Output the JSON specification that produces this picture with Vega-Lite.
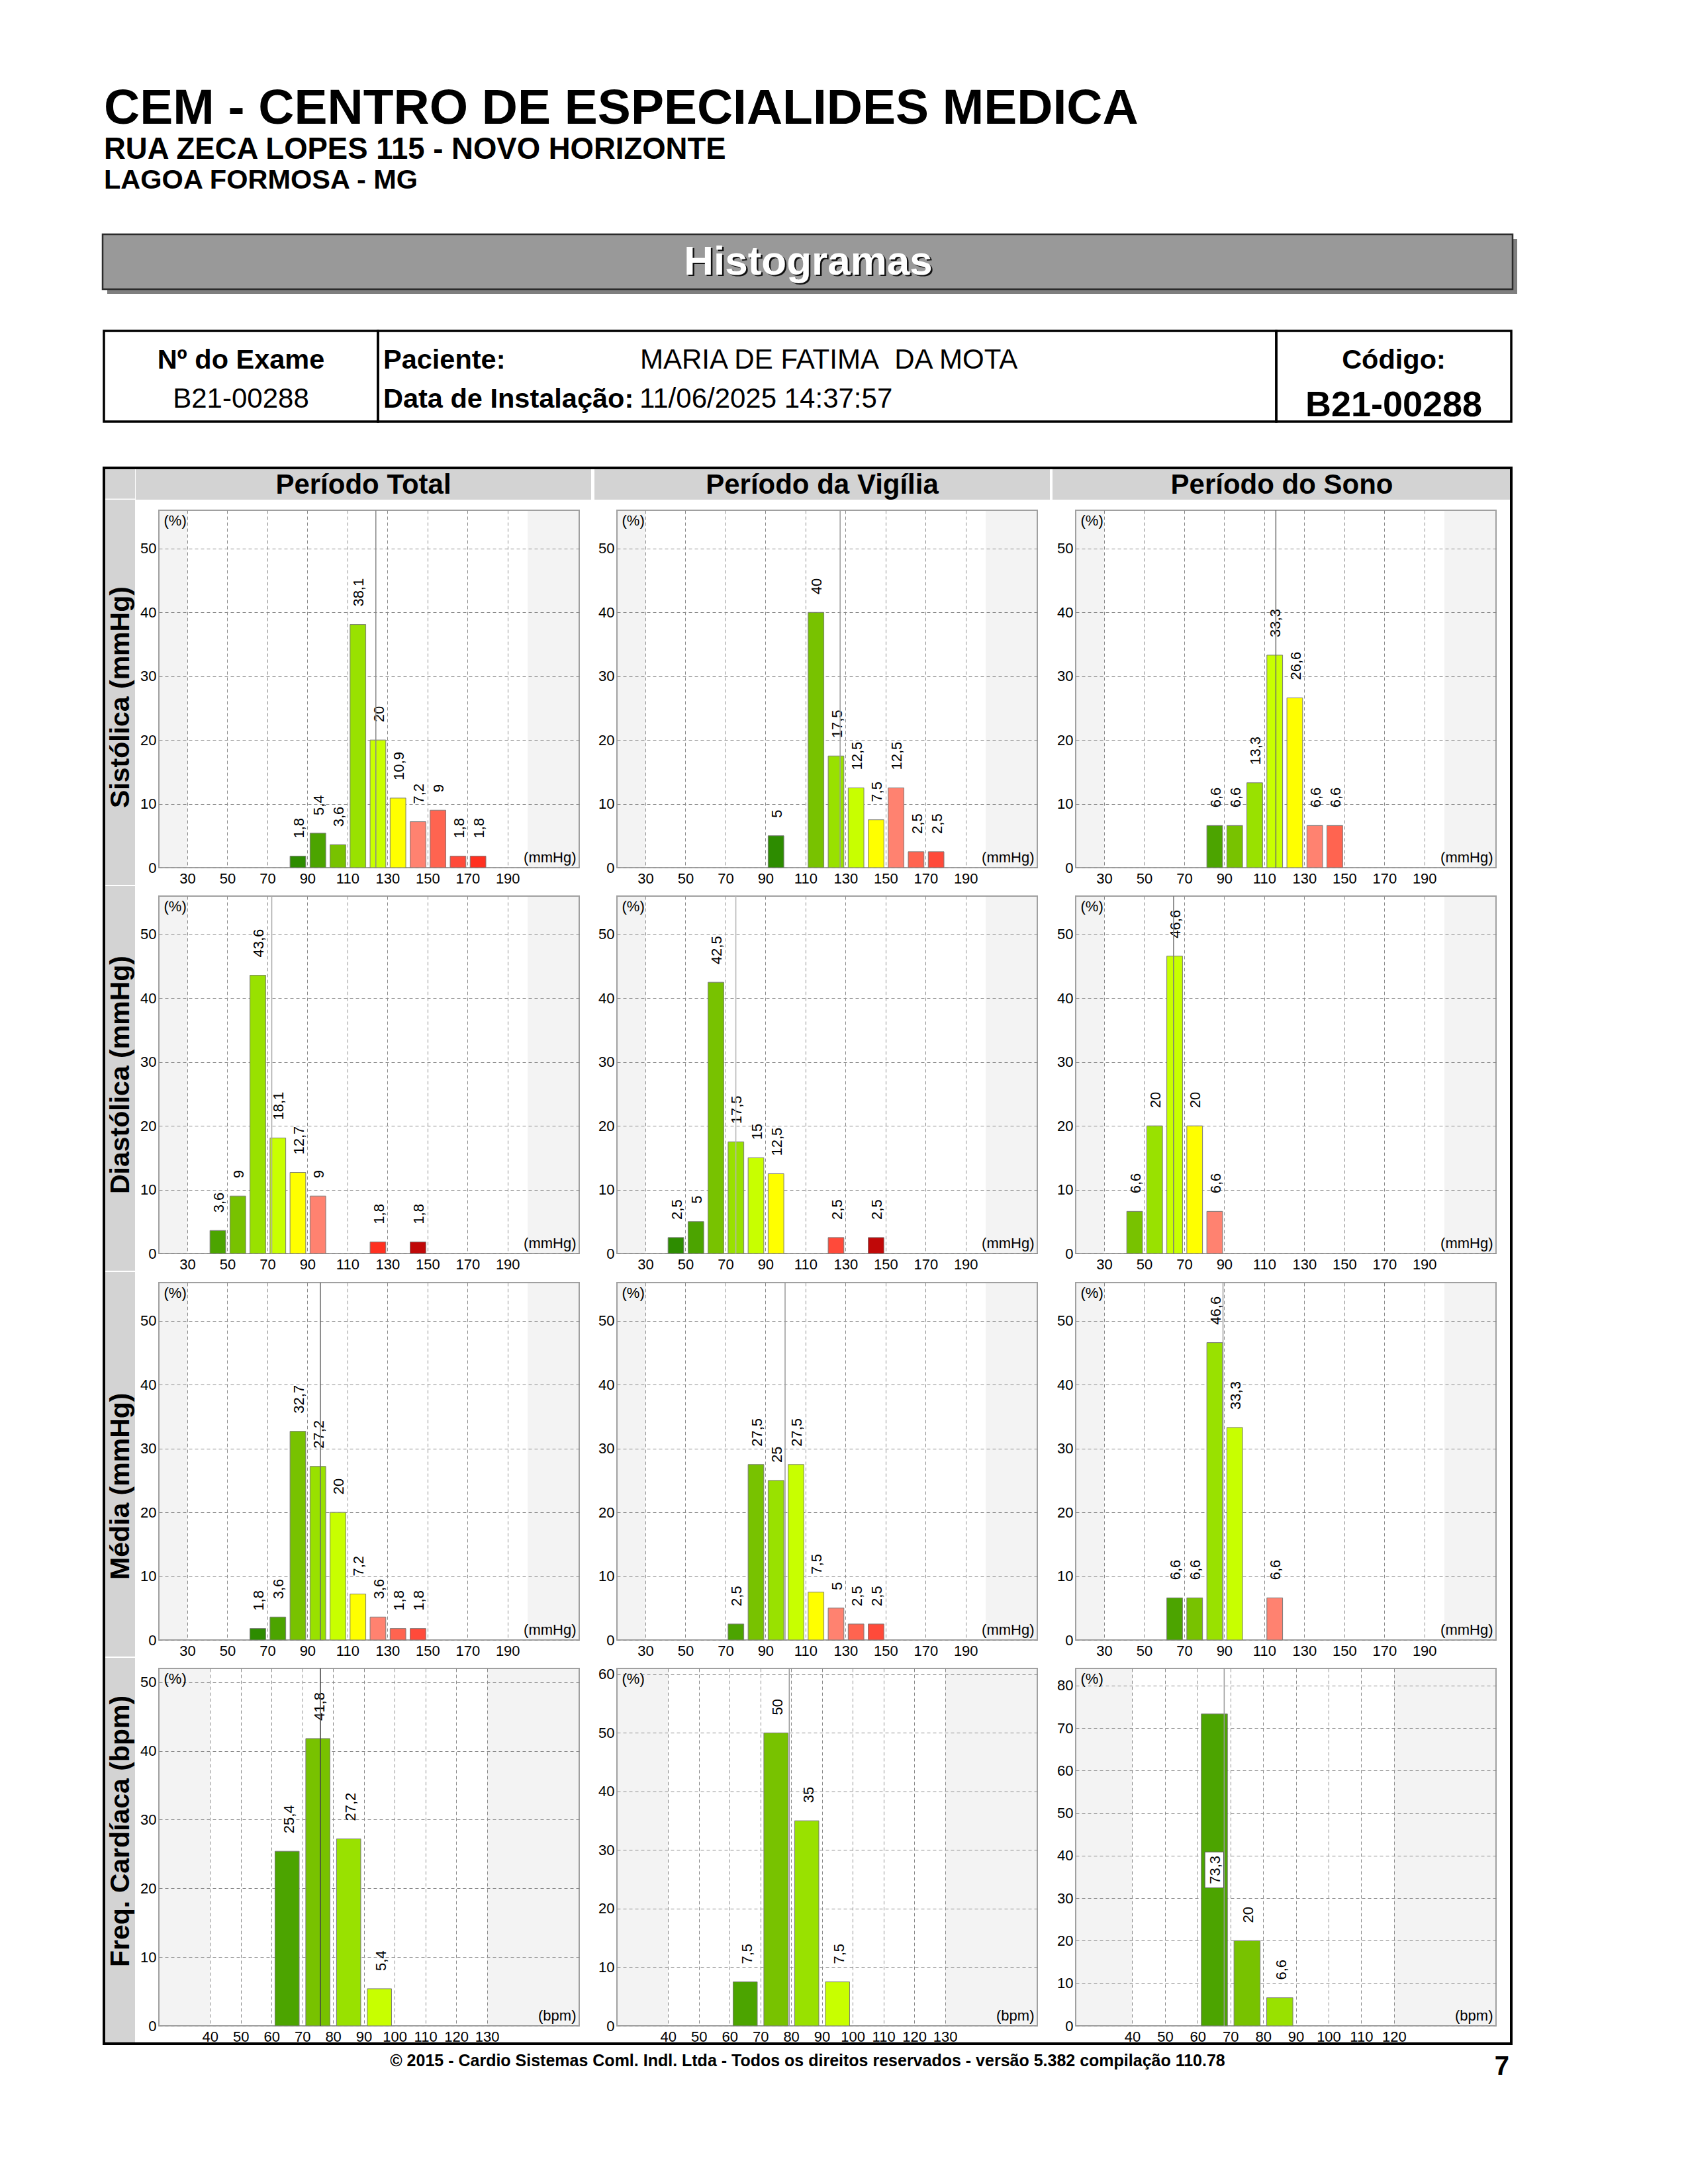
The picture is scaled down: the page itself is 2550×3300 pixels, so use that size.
{
  "$schema": "https://vega.github.io/schema/vega-lite/v6.json",
  "padding": {"left": 153, "top": 0, "right": 0, "bottom": 0},
  "background": "#ffffff",
  "config": {
    "font": "Liberation Sans",
    "view": {"stroke": null},
    "axis": {"labelFont": "Liberation Sans", "titleFont": "Liberation Sans", "labelColor": "#000000", "titleColor": "#000000", "labelFontSize": 22, "titleFontSize": 22, "titleFontWeight": "normal", "ticks": false, "domain": false, "gridColor": "#8a8a8a", "gridDash": [5, 4], "gridWidth": 1, "gridOpacity": 1, "labelOverlap": false},
    "text": {"font": "Liberation Sans", "color": "#000000"},
    "locale": {"number": {"decimal": ",", "thousands": ".", "grouping": [3], "currency": ["R$", ""]}}
  },
  "datasets": {
    "bars": [
      {"p": "s_t", "lo": 80, "hi": 90, "pct": 1.8, "lv": 1},
      {"p": "s_t", "lo": 90, "hi": 100, "pct": 5.4, "lv": 2},
      {"p": "s_t", "lo": 100, "hi": 110, "pct": 3.6, "lv": 3},
      {"p": "s_t", "lo": 110, "hi": 120, "pct": 38.1, "lv": 4},
      {"p": "s_t", "lo": 120, "hi": 130, "pct": 20, "lv": 5},
      {"p": "s_t", "lo": 130, "hi": 140, "pct": 10.9, "lv": 6},
      {"p": "s_t", "lo": 140, "hi": 150, "pct": 7.2, "lv": 7},
      {"p": "s_t", "lo": 150, "hi": 160, "pct": 9, "lv": 8},
      {"p": "s_t", "lo": 160, "hi": 170, "pct": 1.8, "lv": 9},
      {"p": "s_t", "lo": 170, "hi": 180, "pct": 1.8, "lv": 10},
      {"p": "s_v", "lo": 90, "hi": 100, "pct": 5, "lv": 1},
      {"p": "s_v", "lo": 110, "hi": 120, "pct": 40, "lv": 3},
      {"p": "s_v", "lo": 120, "hi": 130, "pct": 17.5, "lv": 4},
      {"p": "s_v", "lo": 130, "hi": 140, "pct": 12.5, "lv": 5},
      {"p": "s_v", "lo": 140, "hi": 150, "pct": 7.5, "lv": 6},
      {"p": "s_v", "lo": 150, "hi": 160, "pct": 12.5, "lv": 7},
      {"p": "s_v", "lo": 160, "hi": 170, "pct": 2.5, "lv": 8},
      {"p": "s_v", "lo": 170, "hi": 180, "pct": 2.5, "lv": 9},
      {"p": "s_s", "lo": 80, "hi": 90, "pct": 6.6, "lv": 2},
      {"p": "s_s", "lo": 90, "hi": 100, "pct": 6.6, "lv": 3},
      {"p": "s_s", "lo": 100, "hi": 110, "pct": 13.3, "lv": 4},
      {"p": "s_s", "lo": 110, "hi": 120, "pct": 33.3, "lv": 5},
      {"p": "s_s", "lo": 120, "hi": 130, "pct": 26.6, "lv": 6},
      {"p": "s_s", "lo": 130, "hi": 140, "pct": 6.6, "lv": 7},
      {"p": "s_s", "lo": 140, "hi": 150, "pct": 6.6, "lv": 8},
      {"p": "d_t", "lo": 40, "hi": 50, "pct": 3.6, "lv": 2},
      {"p": "d_t", "lo": 50, "hi": 60, "pct": 9, "lv": 3},
      {"p": "d_t", "lo": 60, "hi": 70, "pct": 43.6, "lv": 4},
      {"p": "d_t", "lo": 70, "hi": 80, "pct": 18.1, "lv": 5},
      {"p": "d_t", "lo": 80, "hi": 90, "pct": 12.7, "lv": 6},
      {"p": "d_t", "lo": 90, "hi": 100, "pct": 9, "lv": 7},
      {"p": "d_t", "lo": 120, "hi": 130, "pct": 1.8, "lv": 10},
      {"p": "d_t", "lo": 140, "hi": 150, "pct": 1.8, "lv": 11},
      {"p": "d_v", "lo": 40, "hi": 50, "pct": 2.5, "lv": 1},
      {"p": "d_v", "lo": 50, "hi": 60, "pct": 5, "lv": 2},
      {"p": "d_v", "lo": 60, "hi": 70, "pct": 42.5, "lv": 3},
      {"p": "d_v", "lo": 70, "hi": 80, "pct": 17.5, "lv": 4},
      {"p": "d_v", "lo": 80, "hi": 90, "pct": 15, "lv": 5},
      {"p": "d_v", "lo": 90, "hi": 100, "pct": 12.5, "lv": 6},
      {"p": "d_v", "lo": 120, "hi": 130, "pct": 2.5, "lv": 9},
      {"p": "d_v", "lo": 140, "hi": 150, "pct": 2.5, "lv": 11},
      {"p": "d_s", "lo": 40, "hi": 50, "pct": 6.6, "lv": 3},
      {"p": "d_s", "lo": 50, "hi": 60, "pct": 20, "lv": 4},
      {"p": "d_s", "lo": 60, "hi": 70, "pct": 46.6, "lv": 5},
      {"p": "d_s", "lo": 70, "hi": 80, "pct": 20, "lv": 6},
      {"p": "d_s", "lo": 80, "hi": 90, "pct": 6.6, "lv": 7},
      {"p": "m_t", "lo": 60, "hi": 70, "pct": 1.8, "lv": 1},
      {"p": "m_t", "lo": 70, "hi": 80, "pct": 3.6, "lv": 2},
      {"p": "m_t", "lo": 80, "hi": 90, "pct": 32.7, "lv": 3},
      {"p": "m_t", "lo": 90, "hi": 100, "pct": 27.2, "lv": 4},
      {"p": "m_t", "lo": 100, "hi": 110, "pct": 20, "lv": 5},
      {"p": "m_t", "lo": 110, "hi": 120, "pct": 7.2, "lv": 6},
      {"p": "m_t", "lo": 120, "hi": 130, "pct": 3.6, "lv": 7},
      {"p": "m_t", "lo": 130, "hi": 140, "pct": 1.8, "lv": 8},
      {"p": "m_t", "lo": 140, "hi": 150, "pct": 1.8, "lv": 9},
      {"p": "m_v", "lo": 70, "hi": 80, "pct": 2.5, "lv": 2},
      {"p": "m_v", "lo": 80, "hi": 90, "pct": 27.5, "lv": 3},
      {"p": "m_v", "lo": 90, "hi": 100, "pct": 25, "lv": 4},
      {"p": "m_v", "lo": 100, "hi": 110, "pct": 27.5, "lv": 5},
      {"p": "m_v", "lo": 110, "hi": 120, "pct": 7.5, "lv": 6},
      {"p": "m_v", "lo": 120, "hi": 130, "pct": 5, "lv": 7},
      {"p": "m_v", "lo": 130, "hi": 140, "pct": 2.5, "lv": 8},
      {"p": "m_v", "lo": 140, "hi": 150, "pct": 2.5, "lv": 9},
      {"p": "m_s", "lo": 60, "hi": 70, "pct": 6.6, "lv": 2},
      {"p": "m_s", "lo": 70, "hi": 80, "pct": 6.6, "lv": 3},
      {"p": "m_s", "lo": 80, "hi": 90, "pct": 46.6, "lv": 4},
      {"p": "m_s", "lo": 90, "hi": 100, "pct": 33.3, "lv": 5},
      {"p": "m_s", "lo": 110, "hi": 120, "pct": 6.6, "lv": 7},
      {"p": "f_t", "lo": 60, "hi": 70, "pct": 25.4, "lv": 2},
      {"p": "f_t", "lo": 70, "hi": 80, "pct": 41.8, "lv": 3},
      {"p": "f_t", "lo": 80, "hi": 90, "pct": 27.2, "lv": 4},
      {"p": "f_t", "lo": 90, "hi": 100, "pct": 5.4, "lv": 5},
      {"p": "f_v", "lo": 60, "hi": 70, "pct": 7.5, "lv": 2},
      {"p": "f_v", "lo": 70, "hi": 80, "pct": 50, "lv": 3},
      {"p": "f_v", "lo": 80, "hi": 90, "pct": 35, "lv": 4},
      {"p": "f_v", "lo": 90, "hi": 100, "pct": 7.5, "lv": 5},
      {"p": "f_s", "lo": 60, "hi": 70, "pct": 73.3, "lv": 2},
      {"p": "f_s", "lo": 70, "hi": 80, "pct": 20, "lv": 3},
      {"p": "f_s", "lo": 80, "hi": 90, "pct": 6.6, "lv": 4}
    ],
    "means": [
      {"p": "s_t", "m": 124.2}, {"p": "s_v", "m": 127.3}, {"p": "s_s", "m": 115.8},
      {"p": "d_t", "m": 72.2}, {"p": "d_v", "m": 75.2}, {"p": "d_s", "m": 64.7},
      {"p": "m_t", "m": 96.5}, {"p": "m_v", "m": 99.8}, {"p": "m_s", "m": 89.4},
      {"p": "f_t", "m": 75.9}, {"p": "f_v", "m": 79.4}, {"p": "f_s", "m": 68.1}
    ]
  },
  "columns": 7,
  "align": "none",
  "bounds": "flush",
  "spacing": 0,
  "concat": [
    {
      "width": 47, "height": 707,
      "data": {"values": [{}]},
      "layer": [
        {"mark": {"type": "text", "text": "CEM - CENTRO DE ESPECIALIDES MEDICA", "fontSize": 75, "fontWeight": "bold", "align": "left", "baseline": "alphabetic"}, "encoding": {"x": {"value": 0}, "y": {"value": 187}}},
        {"mark": {"type": "text", "text": "RUA ZECA LOPES 115 - NOVO HORIZONTE", "fontSize": 45.5, "fontWeight": "bold", "align": "left", "baseline": "alphabetic"}, "encoding": {"x": {"value": 0}, "y": {"value": 239.5}}},
        {"mark": {"type": "text", "text": "LAGOA FORMOSA - MG", "fontSize": 41.5, "fontWeight": "bold", "align": "left", "baseline": "alphabetic"}, "encoding": {"x": {"value": 0}, "y": {"value": 285}}},
        {"mark": {"type": "rect", "fill": "#7f7f7f"}, "encoding": {"x": {"value": 5}, "x2": {"value": 2135}, "y": {"value": 361}, "y2": {"value": 444}}},
        {"mark": {"type": "rect", "fill": "#999999", "stroke": "#2b2b2b", "strokeWidth": 2.5}, "encoding": {"x": {"value": -2}, "x2": {"value": 2128}, "y": {"value": 354}, "y2": {"value": 437}}},
        {"mark": {"type": "text", "text": "Histogramas", "fontSize": 62, "fontWeight": "bold", "color": "#111111", "baseline": "middle"}, "encoding": {"x": {"value": 1066.5}, "y": {"value": 398}}},
        {"mark": {"type": "text", "text": "Histogramas", "fontSize": 62, "fontWeight": "bold", "color": "#ffffff", "baseline": "middle"}, "encoding": {"x": {"value": 1064}, "y": {"value": 395.5}}},
        {"mark": {"type": "rect", "filled": false, "color": "#000000", "strokeWidth": 3.5}, "encoding": {"x": {"value": 0}, "x2": {"value": 414}, "y": {"value": 500}, "y2": {"value": 637}}},
        {"mark": {"type": "rect", "filled": false, "color": "#000000", "strokeWidth": 3.5}, "encoding": {"x": {"value": 414}, "x2": {"value": 1771}, "y": {"value": 500}, "y2": {"value": 637}}},
        {"mark": {"type": "rect", "filled": false, "color": "#000000", "strokeWidth": 3.5}, "encoding": {"x": {"value": 1771}, "x2": {"value": 2126}, "y": {"value": 500}, "y2": {"value": 637}}},
        {"mark": {"type": "text", "text": "Nº do Exame", "fontSize": 41.5, "fontWeight": "bold", "baseline": "alphabetic"}, "encoding": {"x": {"value": 207}, "y": {"value": 557}}},
        {"mark": {"type": "text", "text": "B21-00288", "fontSize": 42, "baseline": "alphabetic"}, "encoding": {"x": {"value": 207}, "y": {"value": 616}}},
        {"mark": {"type": "text", "text": "Paciente:", "fontSize": 41.5, "fontWeight": "bold", "align": "left", "baseline": "alphabetic"}, "encoding": {"x": {"value": 422}, "y": {"value": 557}}},
        {"mark": {"type": "text", "text": "MARIA DE FATIMA\u00a0 DA MOTA", "fontSize": 42, "align": "left", "baseline": "alphabetic"}, "encoding": {"x": {"value": 810}, "y": {"value": 557}}},
        {"mark": {"type": "text", "text": "Data de Instalação:", "fontSize": 41.5, "fontWeight": "bold", "align": "left", "baseline": "alphabetic"}, "encoding": {"x": {"value": 422}, "y": {"value": 616}}},
        {"mark": {"type": "text", "text": "11/06/2025 14:37:57", "fontSize": 42, "align": "left", "baseline": "alphabetic"}, "encoding": {"x": {"value": 809}, "y": {"value": 616}}},
        {"mark": {"type": "text", "text": "Código:", "fontSize": 41.5, "fontWeight": "bold", "baseline": "alphabetic"}, "encoding": {"x": {"value": 1948.5}, "y": {"value": 557}}},
        {"mark": {"type": "text", "text": "B21-00288", "fontSize": 54, "fontWeight": "bold", "baseline": "alphabetic"}, "encoding": {"x": {"value": 1948.5}, "y": {"value": 629}}}
      ]
    },
    {"width": 1, "height": 707, "data": {"values": []}, "mark": "point"},
    {"width": 1, "height": 707, "data": {"values": []}, "mark": "point"},
    {"width": 1, "height": 707, "data": {"values": []}, "mark": "point"},
    {"width": 1, "height": 707, "data": {"values": []}, "mark": "point"},
    {"width": 1, "height": 707, "data": {"values": []}, "mark": "point"},
    {"width": 1, "height": 707, "data": {"values": []}, "mark": "point"},

    {"width": 47, "height": 48, "view": {"fill": "#d3d3d3"}, "data": {"values": [{}]}, "mark": {"type": "rect", "fill": "#ffffff"}, "encoding": {"x": {"value": 0}, "x2": {"value": 47}, "y": {"value": 46.5}, "y2": {"value": 48}}},
    {"width": 36, "height": 48, "data": {"values": []}, "mark": "point"},
    {"width": 635, "height": 48, "data": {"values": [{}]}, "layer": [
      {"mark": {"type": "rect", "fill": "#d3d3d3"}, "encoding": {"x": {"value": -35}, "x2": {"value": 653}, "y": {"value": 0}, "y2": {"value": 48}}},
      {"mark": {"type": "text", "text": "Período Total", "fontSize": 42, "fontWeight": "bold", "baseline": "middle"}, "encoding": {"x": {"value": 309}, "y": {"value": 26}}}
    ]},
    {"width": 57, "height": 48, "data": {"values": []}, "mark": "point"},
    {"width": 635, "height": 48, "data": {"values": [{}]}, "layer": [
      {"mark": {"type": "rect", "fill": "#d3d3d3"}, "encoding": {"x": {"value": -34}, "x2": {"value": 654}, "y": {"value": 0}, "y2": {"value": 48}}},
      {"mark": {"type": "text", "text": "Período da Vigília", "fontSize": 42, "fontWeight": "bold", "baseline": "middle"}, "encoding": {"x": {"value": 310}, "y": {"value": 26}}}
    ]},
    {"width": 58, "height": 48, "data": {"values": []}, "mark": "point"},
    {"width": 635, "height": 48, "data": {"values": [{}]}, "layer": [
      {"mark": {"type": "rect", "fill": "#d3d3d3"}, "encoding": {"x": {"value": -35}, "x2": {"value": 658}, "y": {"value": 0}, "y2": {"value": 48}}},
      {"mark": {"type": "text", "text": "Período do Sono", "fontSize": 42, "fontWeight": "bold", "baseline": "middle"}, "encoding": {"x": {"value": 311.5}, "y": {"value": 26}}}
    ]},

    {"width": 47, "height": 16, "view": {"fill": "#d3d3d3"}, "data": {"values": []}, "mark": "point"},
    {"width": 36, "height": 16, "data": {"values": []}, "mark": "point"},
    {"width": 635, "height": 16, "data": {"values": []}, "mark": "point"},
    {"width": 57, "height": 16, "data": {"values": []}, "mark": "point"},
    {"width": 635, "height": 16, "data": {"values": []}, "mark": "point"},
    {"width": 58, "height": 16, "data": {"values": []}, "mark": "point"},
    {"width": 635, "height": 16, "data": {"values": []}, "mark": "point"},

    {"width": 47, "height": 540, "view": {"fill": "#d3d3d3"}, "data": {"values": [{}]}, "mark": {"type": "text", "text": "Sistólica (mmHg)", "angle": 270, "align": "left", "baseline": "alphabetic", "fontSize": 41, "fontWeight": "bold"}, "encoding": {"x": {"value": 38}, "y": {"value": 450}}},
    {"width": 36, "height": 540, "data": {"values": []}, "mark": "point"},
    {
      "width": 635, "height": 540,
      "view": {"fill": {"gradient": "linear", "x1": 0, "y1": 0, "x2": 1, "y2": 0, "stops": [{"offset": 0, "color": "#f3f3f3"}, {"offset": 0.0676, "color": "#f3f3f3"}, {"offset": 0.0676, "color": "#ffffff"}, {"offset": 0.8771, "color": "#ffffff"}, {"offset": 0.8771, "color": "#f3f3f3"}, {"offset": 1, "color": "#f3f3f3"}]}, "stroke": "#a0a0a0", "strokeWidth": 2},
      "layer": [
        {"data": {"name": "bars"}, "transform": [{"filter": "datum.p == 's_t'"}], "mark": {"type": "bar", "xOffset": 4, "x2Offset": -2.5, "stroke": "#7a7a7a", "strokeWidth": 1}, "encoding": {
          "x": {"field": "lo", "type": "quantitative", "scale": {"domain": [15.8, 225.8], "nice": false, "zero": false}, "axis": {"values": [30, 40, 50, 60, 70, 80, 90, 100, 110, 120, 130, 140, 150, 160, 170, 180, 190, 200], "labelExpr": "datum.value % 20 == 10 ? datum.label : ''", "labelPadding": 6, "title": "(mmHg)", "titleX": 630, "titleY": -4, "titleAlign": "right", "titleBaseline": "bottom"}},
          "x2": {"field": "hi"},
          "y": {"field": "pct", "type": "quantitative", "scale": {"domain": [0, 56], "nice": false}, "axis": {"values": [0, 10, 20, 30, 40, 50], "labelPadding": 4, "title": "(%)", "titleAngle": 0, "titleX": 7, "titleY": 5, "titleAlign": "left", "titleBaseline": "top"}},
          "y2": {"datum": 0},
          "color": {"field": "lv", "type": "ordinal", "scale": {"domain": [1, 2, 3, 4, 5, 6, 7, 8, 9, 10, 11], "range": ["#2d8c00", "#4ca400", "#78c200", "#99e100", "#c8ff00", "#ffff00", "#ff8270", "#ff6450", "#ff4a3a", "#ff3020", "#c00808"]}, "legend": null}}},
        {"data": {"name": "bars"}, "transform": [{"filter": "datum.p == 's_t'"}], "mark": {"type": "text", "angle": 270, "align": "left", "baseline": "middle", "fontSize": 22, "xOffset": 17.5, "yOffset": -27}, "encoding": {"x": {"field": "lo", "type": "quantitative"}, "y": {"field": "pct", "type": "quantitative"}, "text": {"field": "pct", "type": "quantitative", "format": ".3~g"}}},
        {"data": {"name": "means"}, "transform": [{"filter": "datum.p == 's_t'"}], "mark": {"type": "rule", "color": "#8a8a8a", "strokeWidth": 1.5}, "encoding": {"x": {"field": "m", "type": "quantitative"}}}
      ]
    },
    {"width": 57, "height": 540, "data": {"values": []}, "mark": "point"},
    {
      "width": 635, "height": 540,
      "view": {"fill": {"gradient": "linear", "x1": 0, "y1": 0, "x2": 1, "y2": 0, "stops": [{"offset": 0, "color": "#f3f3f3"}, {"offset": 0.0676, "color": "#f3f3f3"}, {"offset": 0.0676, "color": "#ffffff"}, {"offset": 0.8771, "color": "#ffffff"}, {"offset": 0.8771, "color": "#f3f3f3"}, {"offset": 1, "color": "#f3f3f3"}]}, "stroke": "#a0a0a0", "strokeWidth": 2},
      "layer": [
        {"data": {"name": "bars"}, "transform": [{"filter": "datum.p == 's_v'"}], "mark": {"type": "bar", "xOffset": 4, "x2Offset": -2.5, "stroke": "#7a7a7a", "strokeWidth": 1}, "encoding": {
          "x": {"field": "lo", "type": "quantitative", "scale": {"domain": [15.8, 225.8], "nice": false, "zero": false}, "axis": {"values": [30, 40, 50, 60, 70, 80, 90, 100, 110, 120, 130, 140, 150, 160, 170, 180, 190, 200], "labelExpr": "datum.value % 20 == 10 ? datum.label : ''", "labelPadding": 6, "title": "(mmHg)", "titleX": 630, "titleY": -4, "titleAlign": "right", "titleBaseline": "bottom"}},
          "x2": {"field": "hi"},
          "y": {"field": "pct", "type": "quantitative", "scale": {"domain": [0, 56], "nice": false}, "axis": {"values": [0, 10, 20, 30, 40, 50], "labelPadding": 4, "title": "(%)", "titleAngle": 0, "titleX": 7, "titleY": 5, "titleAlign": "left", "titleBaseline": "top"}},
          "y2": {"datum": 0},
          "color": {"field": "lv", "type": "ordinal", "scale": {"domain": [1, 2, 3, 4, 5, 6, 7, 8, 9, 10, 11], "range": ["#2d8c00", "#4ca400", "#78c200", "#99e100", "#c8ff00", "#ffff00", "#ff8270", "#ff6450", "#ff4a3a", "#ff3020", "#c00808"]}, "legend": null}}},
        {"data": {"name": "bars"}, "transform": [{"filter": "datum.p == 's_v'"}], "mark": {"type": "text", "angle": 270, "align": "left", "baseline": "middle", "fontSize": 22, "xOffset": 17.5, "yOffset": -27}, "encoding": {"x": {"field": "lo", "type": "quantitative"}, "y": {"field": "pct", "type": "quantitative"}, "text": {"field": "pct", "type": "quantitative", "format": ".3~g"}}},
        {"data": {"name": "means"}, "transform": [{"filter": "datum.p == 's_v'"}], "mark": {"type": "rule", "color": "#9a9a9a", "strokeWidth": 1.5}, "encoding": {"x": {"field": "m", "type": "quantitative"}}}
      ]
    },
    {"width": 58, "height": 540, "data": {"values": []}, "mark": "point"},
    {
      "width": 635, "height": 540,
      "view": {"fill": {"gradient": "linear", "x1": 0, "y1": 0, "x2": 1, "y2": 0, "stops": [{"offset": 0, "color": "#f3f3f3"}, {"offset": 0.0676, "color": "#f3f3f3"}, {"offset": 0.0676, "color": "#ffffff"}, {"offset": 0.8771, "color": "#ffffff"}, {"offset": 0.8771, "color": "#f3f3f3"}, {"offset": 1, "color": "#f3f3f3"}]}, "stroke": "#a0a0a0", "strokeWidth": 2},
      "layer": [
        {"data": {"name": "bars"}, "transform": [{"filter": "datum.p == 's_s'"}], "mark": {"type": "bar", "xOffset": 4, "x2Offset": -2.5, "stroke": "#7a7a7a", "strokeWidth": 1}, "encoding": {
          "x": {"field": "lo", "type": "quantitative", "scale": {"domain": [15.8, 225.8], "nice": false, "zero": false}, "axis": {"values": [30, 40, 50, 60, 70, 80, 90, 100, 110, 120, 130, 140, 150, 160, 170, 180, 190, 200], "labelExpr": "datum.value % 20 == 10 ? datum.label : ''", "labelPadding": 6, "title": "(mmHg)", "titleX": 630, "titleY": -4, "titleAlign": "right", "titleBaseline": "bottom"}},
          "x2": {"field": "hi"},
          "y": {"field": "pct", "type": "quantitative", "scale": {"domain": [0, 56], "nice": false}, "axis": {"values": [0, 10, 20, 30, 40, 50], "labelPadding": 4, "title": "(%)", "titleAngle": 0, "titleX": 7, "titleY": 5, "titleAlign": "left", "titleBaseline": "top"}},
          "y2": {"datum": 0},
          "color": {"field": "lv", "type": "ordinal", "scale": {"domain": [1, 2, 3, 4, 5, 6, 7, 8, 9, 10, 11], "range": ["#2d8c00", "#4ca400", "#78c200", "#99e100", "#c8ff00", "#ffff00", "#ff8270", "#ff6450", "#ff4a3a", "#ff3020", "#c00808"]}, "legend": null}}},
        {"data": {"name": "bars"}, "transform": [{"filter": "datum.p == 's_s'"}], "mark": {"type": "text", "angle": 270, "align": "left", "baseline": "middle", "fontSize": 22, "xOffset": 17.5, "yOffset": -27}, "encoding": {"x": {"field": "lo", "type": "quantitative"}, "y": {"field": "pct", "type": "quantitative"}, "text": {"field": "pct", "type": "quantitative", "format": ".3~g"}}},
        {"data": {"name": "means"}, "transform": [{"filter": "datum.p == 's_s'"}], "mark": {"type": "rule", "color": "#6a6a6a", "strokeWidth": 1.5}, "encoding": {"x": {"field": "m", "type": "quantitative"}}}
      ]
    },

    {"width": 47, "height": 43, "view": {"fill": "#d3d3d3"}, "data": {"values": [{}]}, "mark": {"type": "rect", "fill": "#ffffff"}, "encoding": {"x": {"value": 0}, "x2": {"value": 47}, "y": {"value": 26}, "y2": {"value": 28}}},
    {"width": 36, "height": 43, "data": {"values": []}, "mark": "point"},
    {"width": 635, "height": 43, "data": {"values": []}, "mark": "point"},
    {"width": 57, "height": 43, "data": {"values": []}, "mark": "point"},
    {"width": 635, "height": 43, "data": {"values": []}, "mark": "point"},
    {"width": 58, "height": 43, "data": {"values": []}, "mark": "point"},
    {"width": 635, "height": 43, "data": {"values": []}, "mark": "point"},

    {"width": 47, "height": 540, "view": {"fill": "#d3d3d3"}, "data": {"values": [{}]}, "mark": {"type": "text", "text": "Diastólica (mmHg)", "angle": 270, "align": "left", "baseline": "alphabetic", "fontSize": 41, "fontWeight": "bold"}, "encoding": {"x": {"value": 38}, "y": {"value": 450}}},
    {"width": 36, "height": 540, "data": {"values": []}, "mark": "point"},
    {
      "width": 635, "height": 540,
      "view": {"fill": {"gradient": "linear", "x1": 0, "y1": 0, "x2": 1, "y2": 0, "stops": [{"offset": 0, "color": "#f3f3f3"}, {"offset": 0.0676, "color": "#f3f3f3"}, {"offset": 0.0676, "color": "#ffffff"}, {"offset": 0.8771, "color": "#ffffff"}, {"offset": 0.8771, "color": "#f3f3f3"}, {"offset": 1, "color": "#f3f3f3"}]}, "stroke": "#a0a0a0", "strokeWidth": 2},
      "layer": [
        {"data": {"name": "bars"}, "transform": [{"filter": "datum.p == 'd_t'"}], "mark": {"type": "bar", "xOffset": 4, "x2Offset": -2.5, "stroke": "#7a7a7a", "strokeWidth": 1}, "encoding": {
          "x": {"field": "lo", "type": "quantitative", "scale": {"domain": [15.8, 225.8], "nice": false, "zero": false}, "axis": {"values": [30, 40, 50, 60, 70, 80, 90, 100, 110, 120, 130, 140, 150, 160, 170, 180, 190, 200], "labelExpr": "datum.value % 20 == 10 ? datum.label : ''", "labelPadding": 6, "title": "(mmHg)", "titleX": 630, "titleY": -4, "titleAlign": "right", "titleBaseline": "bottom"}},
          "x2": {"field": "hi"},
          "y": {"field": "pct", "type": "quantitative", "scale": {"domain": [0, 56], "nice": false}, "axis": {"values": [0, 10, 20, 30, 40, 50], "labelPadding": 4, "title": "(%)", "titleAngle": 0, "titleX": 7, "titleY": 5, "titleAlign": "left", "titleBaseline": "top"}},
          "y2": {"datum": 0},
          "color": {"field": "lv", "type": "ordinal", "scale": {"domain": [1, 2, 3, 4, 5, 6, 7, 8, 9, 10, 11], "range": ["#2d8c00", "#4ca400", "#78c200", "#99e100", "#c8ff00", "#ffff00", "#ff8270", "#ff6450", "#ff4a3a", "#ff3020", "#c00808"]}, "legend": null}}},
        {"data": {"name": "bars"}, "transform": [{"filter": "datum.p == 'd_t'"}], "mark": {"type": "text", "angle": 270, "align": "left", "baseline": "middle", "fontSize": 22, "xOffset": 17.5, "yOffset": -27}, "encoding": {"x": {"field": "lo", "type": "quantitative"}, "y": {"field": "pct", "type": "quantitative"}, "text": {"field": "pct", "type": "quantitative", "format": ".3~g"}}},
        {"data": {"name": "means"}, "transform": [{"filter": "datum.p == 'd_t'"}], "mark": {"type": "rule", "color": "#aaaaaa", "strokeWidth": 1.5}, "encoding": {"x": {"field": "m", "type": "quantitative"}}}
      ]
    },
    {"width": 57, "height": 540, "data": {"values": []}, "mark": "point"},
    {
      "width": 635, "height": 540,
      "view": {"fill": {"gradient": "linear", "x1": 0, "y1": 0, "x2": 1, "y2": 0, "stops": [{"offset": 0, "color": "#f3f3f3"}, {"offset": 0.0676, "color": "#f3f3f3"}, {"offset": 0.0676, "color": "#ffffff"}, {"offset": 0.8771, "color": "#ffffff"}, {"offset": 0.8771, "color": "#f3f3f3"}, {"offset": 1, "color": "#f3f3f3"}]}, "stroke": "#a0a0a0", "strokeWidth": 2},
      "layer": [
        {"data": {"name": "bars"}, "transform": [{"filter": "datum.p == 'd_v'"}], "mark": {"type": "bar", "xOffset": 4, "x2Offset": -2.5, "stroke": "#7a7a7a", "strokeWidth": 1}, "encoding": {
          "x": {"field": "lo", "type": "quantitative", "scale": {"domain": [15.8, 225.8], "nice": false, "zero": false}, "axis": {"values": [30, 40, 50, 60, 70, 80, 90, 100, 110, 120, 130, 140, 150, 160, 170, 180, 190, 200], "labelExpr": "datum.value % 20 == 10 ? datum.label : ''", "labelPadding": 6, "title": "(mmHg)", "titleX": 630, "titleY": -4, "titleAlign": "right", "titleBaseline": "bottom"}},
          "x2": {"field": "hi"},
          "y": {"field": "pct", "type": "quantitative", "scale": {"domain": [0, 56], "nice": false}, "axis": {"values": [0, 10, 20, 30, 40, 50], "labelPadding": 4, "title": "(%)", "titleAngle": 0, "titleX": 7, "titleY": 5, "titleAlign": "left", "titleBaseline": "top"}},
          "y2": {"datum": 0},
          "color": {"field": "lv", "type": "ordinal", "scale": {"domain": [1, 2, 3, 4, 5, 6, 7, 8, 9, 10, 11], "range": ["#2d8c00", "#4ca400", "#78c200", "#99e100", "#c8ff00", "#ffff00", "#ff8270", "#ff6450", "#ff4a3a", "#ff3020", "#c00808"]}, "legend": null}}},
        {"data": {"name": "bars"}, "transform": [{"filter": "datum.p == 'd_v'"}], "mark": {"type": "text", "angle": 270, "align": "left", "baseline": "middle", "fontSize": 22, "xOffset": 17.5, "yOffset": -27}, "encoding": {"x": {"field": "lo", "type": "quantitative"}, "y": {"field": "pct", "type": "quantitative"}, "text": {"field": "pct", "type": "quantitative", "format": ".3~g"}}},
        {"data": {"name": "means"}, "transform": [{"filter": "datum.p == 'd_v'"}], "mark": {"type": "rule", "color": "#b4b4b4", "strokeWidth": 1.5}, "encoding": {"x": {"field": "m", "type": "quantitative"}}}
      ]
    },
    {"width": 58, "height": 540, "data": {"values": []}, "mark": "point"},
    {
      "width": 635, "height": 540,
      "view": {"fill": {"gradient": "linear", "x1": 0, "y1": 0, "x2": 1, "y2": 0, "stops": [{"offset": 0, "color": "#f3f3f3"}, {"offset": 0.0676, "color": "#f3f3f3"}, {"offset": 0.0676, "color": "#ffffff"}, {"offset": 0.8771, "color": "#ffffff"}, {"offset": 0.8771, "color": "#f3f3f3"}, {"offset": 1, "color": "#f3f3f3"}]}, "stroke": "#a0a0a0", "strokeWidth": 2},
      "layer": [
        {"data": {"name": "bars"}, "transform": [{"filter": "datum.p == 'd_s'"}], "mark": {"type": "bar", "xOffset": 4, "x2Offset": -2.5, "stroke": "#7a7a7a", "strokeWidth": 1}, "encoding": {
          "x": {"field": "lo", "type": "quantitative", "scale": {"domain": [15.8, 225.8], "nice": false, "zero": false}, "axis": {"values": [30, 40, 50, 60, 70, 80, 90, 100, 110, 120, 130, 140, 150, 160, 170, 180, 190, 200], "labelExpr": "datum.value % 20 == 10 ? datum.label : ''", "labelPadding": 6, "title": "(mmHg)", "titleX": 630, "titleY": -4, "titleAlign": "right", "titleBaseline": "bottom"}},
          "x2": {"field": "hi"},
          "y": {"field": "pct", "type": "quantitative", "scale": {"domain": [0, 56], "nice": false}, "axis": {"values": [0, 10, 20, 30, 40, 50], "labelPadding": 4, "title": "(%)", "titleAngle": 0, "titleX": 7, "titleY": 5, "titleAlign": "left", "titleBaseline": "top"}},
          "y2": {"datum": 0},
          "color": {"field": "lv", "type": "ordinal", "scale": {"domain": [1, 2, 3, 4, 5, 6, 7, 8, 9, 10, 11], "range": ["#2d8c00", "#4ca400", "#78c200", "#99e100", "#c8ff00", "#ffff00", "#ff8270", "#ff6450", "#ff4a3a", "#ff3020", "#c00808"]}, "legend": null}}},
        {"data": {"name": "bars"}, "transform": [{"filter": "datum.p == 'd_s'"}], "mark": {"type": "text", "angle": 270, "align": "left", "baseline": "middle", "fontSize": 22, "xOffset": 17.5, "yOffset": -27}, "encoding": {"x": {"field": "lo", "type": "quantitative"}, "y": {"field": "pct", "type": "quantitative"}, "text": {"field": "pct", "type": "quantitative", "format": ".3~g"}}},
        {"data": {"name": "means"}, "transform": [{"filter": "datum.p == 'd_s'"}], "mark": {"type": "rule", "color": "#7a7a7a", "strokeWidth": 1.5}, "encoding": {"x": {"field": "m", "type": "quantitative"}}}
      ]
    },

    {"width": 47, "height": 44, "view": {"fill": "#d3d3d3"}, "data": {"values": [{}]}, "mark": {"type": "rect", "fill": "#ffffff"}, "encoding": {"x": {"value": 0}, "x2": {"value": 47}, "y": {"value": 26}, "y2": {"value": 28}}},
    {"width": 36, "height": 44, "data": {"values": []}, "mark": "point"},
    {"width": 635, "height": 44, "data": {"values": []}, "mark": "point"},
    {"width": 57, "height": 44, "data": {"values": []}, "mark": "point"},
    {"width": 635, "height": 44, "data": {"values": []}, "mark": "point"},
    {"width": 58, "height": 44, "data": {"values": []}, "mark": "point"},
    {"width": 635, "height": 44, "data": {"values": []}, "mark": "point"},

    {"width": 47, "height": 540, "view": {"fill": "#d3d3d3"}, "data": {"values": [{}]}, "mark": {"type": "text", "text": "Média (mmHg)", "angle": 270, "align": "left", "baseline": "alphabetic", "fontSize": 41, "fontWeight": "bold"}, "encoding": {"x": {"value": 38}, "y": {"value": 449}}},
    {"width": 36, "height": 540, "data": {"values": []}, "mark": "point"},
    {
      "width": 635, "height": 540,
      "view": {"fill": {"gradient": "linear", "x1": 0, "y1": 0, "x2": 1, "y2": 0, "stops": [{"offset": 0, "color": "#f3f3f3"}, {"offset": 0.0676, "color": "#f3f3f3"}, {"offset": 0.0676, "color": "#ffffff"}, {"offset": 0.8771, "color": "#ffffff"}, {"offset": 0.8771, "color": "#f3f3f3"}, {"offset": 1, "color": "#f3f3f3"}]}, "stroke": "#a0a0a0", "strokeWidth": 2},
      "layer": [
        {"data": {"name": "bars"}, "transform": [{"filter": "datum.p == 'm_t'"}], "mark": {"type": "bar", "xOffset": 4, "x2Offset": -2.5, "stroke": "#7a7a7a", "strokeWidth": 1}, "encoding": {
          "x": {"field": "lo", "type": "quantitative", "scale": {"domain": [15.8, 225.8], "nice": false, "zero": false}, "axis": {"values": [30, 40, 50, 60, 70, 80, 90, 100, 110, 120, 130, 140, 150, 160, 170, 180, 190, 200], "labelExpr": "datum.value % 20 == 10 ? datum.label : ''", "labelPadding": 6, "title": "(mmHg)", "titleX": 630, "titleY": -4, "titleAlign": "right", "titleBaseline": "bottom"}},
          "x2": {"field": "hi"},
          "y": {"field": "pct", "type": "quantitative", "scale": {"domain": [0, 56], "nice": false}, "axis": {"values": [0, 10, 20, 30, 40, 50], "labelPadding": 4, "title": "(%)", "titleAngle": 0, "titleX": 7, "titleY": 5, "titleAlign": "left", "titleBaseline": "top"}},
          "y2": {"datum": 0},
          "color": {"field": "lv", "type": "ordinal", "scale": {"domain": [1, 2, 3, 4, 5, 6, 7, 8, 9, 10, 11], "range": ["#2d8c00", "#4ca400", "#78c200", "#99e100", "#c8ff00", "#ffff00", "#ff8270", "#ff6450", "#ff4a3a", "#ff3020", "#c00808"]}, "legend": null}}},
        {"data": {"name": "bars"}, "transform": [{"filter": "datum.p == 'm_t'"}], "mark": {"type": "text", "angle": 270, "align": "left", "baseline": "middle", "fontSize": 22, "xOffset": 17.5, "yOffset": -27}, "encoding": {"x": {"field": "lo", "type": "quantitative"}, "y": {"field": "pct", "type": "quantitative"}, "text": {"field": "pct", "type": "quantitative", "format": ".3~g"}}},
        {"data": {"name": "means"}, "transform": [{"filter": "datum.p == 'm_t'"}], "mark": {"type": "rule", "color": "#6a6a6a", "strokeWidth": 1.5}, "encoding": {"x": {"field": "m", "type": "quantitative"}}}
      ]
    },
    {"width": 57, "height": 540, "data": {"values": []}, "mark": "point"},
    {
      "width": 635, "height": 540,
      "view": {"fill": {"gradient": "linear", "x1": 0, "y1": 0, "x2": 1, "y2": 0, "stops": [{"offset": 0, "color": "#f3f3f3"}, {"offset": 0.0676, "color": "#f3f3f3"}, {"offset": 0.0676, "color": "#ffffff"}, {"offset": 0.8771, "color": "#ffffff"}, {"offset": 0.8771, "color": "#f3f3f3"}, {"offset": 1, "color": "#f3f3f3"}]}, "stroke": "#a0a0a0", "strokeWidth": 2},
      "layer": [
        {"data": {"name": "bars"}, "transform": [{"filter": "datum.p == 'm_v'"}], "mark": {"type": "bar", "xOffset": 4, "x2Offset": -2.5, "stroke": "#7a7a7a", "strokeWidth": 1}, "encoding": {
          "x": {"field": "lo", "type": "quantitative", "scale": {"domain": [15.8, 225.8], "nice": false, "zero": false}, "axis": {"values": [30, 40, 50, 60, 70, 80, 90, 100, 110, 120, 130, 140, 150, 160, 170, 180, 190, 200], "labelExpr": "datum.value % 20 == 10 ? datum.label : ''", "labelPadding": 6, "title": "(mmHg)", "titleX": 630, "titleY": -4, "titleAlign": "right", "titleBaseline": "bottom"}},
          "x2": {"field": "hi"},
          "y": {"field": "pct", "type": "quantitative", "scale": {"domain": [0, 56], "nice": false}, "axis": {"values": [0, 10, 20, 30, 40, 50], "labelPadding": 4, "title": "(%)", "titleAngle": 0, "titleX": 7, "titleY": 5, "titleAlign": "left", "titleBaseline": "top"}},
          "y2": {"datum": 0},
          "color": {"field": "lv", "type": "ordinal", "scale": {"domain": [1, 2, 3, 4, 5, 6, 7, 8, 9, 10, 11], "range": ["#2d8c00", "#4ca400", "#78c200", "#99e100", "#c8ff00", "#ffff00", "#ff8270", "#ff6450", "#ff4a3a", "#ff3020", "#c00808"]}, "legend": null}}},
        {"data": {"name": "bars"}, "transform": [{"filter": "datum.p == 'm_v'"}], "mark": {"type": "text", "angle": 270, "align": "left", "baseline": "middle", "fontSize": 22, "xOffset": 17.5, "yOffset": -27}, "encoding": {"x": {"field": "lo", "type": "quantitative"}, "y": {"field": "pct", "type": "quantitative"}, "text": {"field": "pct", "type": "quantitative", "format": ".3~g"}}},
        {"data": {"name": "means"}, "transform": [{"filter": "datum.p == 'm_v'"}], "mark": {"type": "rule", "color": "#9a9a9a", "strokeWidth": 1.5}, "encoding": {"x": {"field": "m", "type": "quantitative"}}}
      ]
    },
    {"width": 58, "height": 540, "data": {"values": []}, "mark": "point"},
    {
      "width": 635, "height": 540,
      "view": {"fill": {"gradient": "linear", "x1": 0, "y1": 0, "x2": 1, "y2": 0, "stops": [{"offset": 0, "color": "#f3f3f3"}, {"offset": 0.0676, "color": "#f3f3f3"}, {"offset": 0.0676, "color": "#ffffff"}, {"offset": 0.8771, "color": "#ffffff"}, {"offset": 0.8771, "color": "#f3f3f3"}, {"offset": 1, "color": "#f3f3f3"}]}, "stroke": "#a0a0a0", "strokeWidth": 2},
      "layer": [
        {"data": {"name": "bars"}, "transform": [{"filter": "datum.p == 'm_s'"}], "mark": {"type": "bar", "xOffset": 4, "x2Offset": -2.5, "stroke": "#7a7a7a", "strokeWidth": 1}, "encoding": {
          "x": {"field": "lo", "type": "quantitative", "scale": {"domain": [15.8, 225.8], "nice": false, "zero": false}, "axis": {"values": [30, 40, 50, 60, 70, 80, 90, 100, 110, 120, 130, 140, 150, 160, 170, 180, 190, 200], "labelExpr": "datum.value % 20 == 10 ? datum.label : ''", "labelPadding": 6, "title": "(mmHg)", "titleX": 630, "titleY": -4, "titleAlign": "right", "titleBaseline": "bottom"}},
          "x2": {"field": "hi"},
          "y": {"field": "pct", "type": "quantitative", "scale": {"domain": [0, 56], "nice": false}, "axis": {"values": [0, 10, 20, 30, 40, 50], "labelPadding": 4, "title": "(%)", "titleAngle": 0, "titleX": 7, "titleY": 5, "titleAlign": "left", "titleBaseline": "top"}},
          "y2": {"datum": 0},
          "color": {"field": "lv", "type": "ordinal", "scale": {"domain": [1, 2, 3, 4, 5, 6, 7, 8, 9, 10, 11], "range": ["#2d8c00", "#4ca400", "#78c200", "#99e100", "#c8ff00", "#ffff00", "#ff8270", "#ff6450", "#ff4a3a", "#ff3020", "#c00808"]}, "legend": null}}},
        {"data": {"name": "bars"}, "transform": [{"filter": "datum.p == 'm_s'"}], "mark": {"type": "text", "angle": 270, "align": "left", "baseline": "middle", "fontSize": 22, "xOffset": 17.5, "yOffset": -27}, "encoding": {"x": {"field": "lo", "type": "quantitative"}, "y": {"field": "pct", "type": "quantitative"}, "text": {"field": "pct", "type": "quantitative", "format": ".3~g"}}},
        {"data": {"name": "means"}, "transform": [{"filter": "datum.p == 'm_s'"}], "mark": {"type": "rule", "color": "#9a9a9a", "strokeWidth": 1.5}, "encoding": {"x": {"field": "m", "type": "quantitative"}}}
      ]
    },

    {"width": 47, "height": 43, "view": {"fill": "#d3d3d3"}, "data": {"values": [{}]}, "mark": {"type": "rect", "fill": "#ffffff"}, "encoding": {"x": {"value": 0}, "x2": {"value": 47}, "y": {"value": 25}, "y2": {"value": 27}}},
    {"width": 36, "height": 43, "data": {"values": []}, "mark": "point"},
    {"width": 635, "height": 43, "data": {"values": []}, "mark": "point"},
    {"width": 57, "height": 43, "data": {"values": []}, "mark": "point"},
    {"width": 635, "height": 43, "data": {"values": []}, "mark": "point"},
    {"width": 58, "height": 43, "data": {"values": []}, "mark": "point"},
    {"width": 635, "height": 43, "data": {"values": []}, "mark": "point"},

    {"width": 47, "height": 540, "view": {"fill": "#d3d3d3"}, "data": {"values": [{}]}, "mark": {"type": "text", "text": "Freq. Cardíaca (bpm)", "angle": 270, "align": "left", "baseline": "alphabetic", "fontSize": 41, "fontWeight": "bold"}, "encoding": {"x": {"value": 38}, "y": {"value": 451}}},
    {"width": 36, "height": 540, "data": {"values": []}, "mark": "point"},
    {
      "width": 635, "height": 540,
      "view": {"fill": {"gradient": "linear", "x1": 0, "y1": 0, "x2": 1, "y2": 0, "stops": [{"offset": 0, "color": "#f3f3f3"}, {"offset": 0.1215, "color": "#f3f3f3"}, {"offset": 0.1215, "color": "#ffffff"}, {"offset": 0.7804, "color": "#ffffff"}, {"offset": 0.7804, "color": "#f3f3f3"}, {"offset": 1, "color": "#f3f3f3"}]}, "stroke": "#a0a0a0", "strokeWidth": 2},
      "layer": [
        {"data": {"name": "bars"}, "transform": [{"filter": "datum.p == 'f_t'"}], "mark": {"type": "bar", "xOffset": 5.3, "x2Offset": -4.6, "stroke": "#7a7a7a", "strokeWidth": 1}, "encoding": {
          "x": {"field": "lo", "type": "quantitative", "scale": {"domain": [23.4, 160], "nice": false, "zero": false}, "axis": {"values": [40, 50, 60, 70, 80, 90, 100, 110, 120, 130], "labelPadding": 6, "title": "(bpm)", "titleX": 630, "titleY": -4, "titleAlign": "right", "titleBaseline": "bottom"}},
          "x2": {"field": "hi"},
          "y": {"field": "pct", "type": "quantitative", "scale": {"domain": [0, 52], "nice": false}, "axis": {"values": [0, 10, 20, 30, 40, 50], "labelPadding": 4, "title": "(%)", "titleAngle": 0, "titleX": 7, "titleY": 5, "titleAlign": "left", "titleBaseline": "top"}},
          "y2": {"datum": 0},
          "color": {"field": "lv", "type": "ordinal", "scale": {"domain": [1, 2, 3, 4, 5, 6, 7, 8, 9, 10, 11], "range": ["#2d8c00", "#4ca400", "#78c200", "#99e100", "#c8ff00", "#ffff00", "#ff8270", "#ff6450", "#ff4a3a", "#ff3020", "#c00808"]}, "legend": null}}},
        {"data": {"name": "bars"}, "transform": [{"filter": "datum.p == 'f_t'"}], "mark": {"type": "text", "angle": 270, "align": "left", "baseline": "middle", "fontSize": 22, "xOffset": 26.5, "yOffset": -27}, "encoding": {"x": {"field": "lo", "type": "quantitative"}, "y": {"field": "pct", "type": "quantitative"}, "text": {"field": "pct", "type": "quantitative", "format": ".3~g"}}},
        {"data": {"name": "means"}, "transform": [{"filter": "datum.p == 'f_t'"}], "mark": {"type": "rule", "color": "#444444", "strokeWidth": 1.5}, "encoding": {"x": {"field": "m", "type": "quantitative"}}}
      ]
    },
    {"width": 57, "height": 540, "data": {"values": []}, "mark": "point"},
    {
      "width": 635, "height": 540,
      "view": {"fill": {"gradient": "linear", "x1": 0, "y1": 0, "x2": 1, "y2": 0, "stops": [{"offset": 0, "color": "#f3f3f3"}, {"offset": 0.1215, "color": "#f3f3f3"}, {"offset": 0.1215, "color": "#ffffff"}, {"offset": 0.7804, "color": "#ffffff"}, {"offset": 0.7804, "color": "#f3f3f3"}, {"offset": 1, "color": "#f3f3f3"}]}, "stroke": "#a0a0a0", "strokeWidth": 2},
      "layer": [
        {"data": {"name": "bars"}, "transform": [{"filter": "datum.p == 'f_v'"}], "mark": {"type": "bar", "xOffset": 5.3, "x2Offset": -4.6, "stroke": "#7a7a7a", "strokeWidth": 1}, "encoding": {
          "x": {"field": "lo", "type": "quantitative", "scale": {"domain": [23.4, 160], "nice": false, "zero": false}, "axis": {"values": [40, 50, 60, 70, 80, 90, 100, 110, 120, 130], "labelPadding": 6, "title": "(bpm)", "titleX": 630, "titleY": -4, "titleAlign": "right", "titleBaseline": "bottom"}},
          "x2": {"field": "hi"},
          "y": {"field": "pct", "type": "quantitative", "scale": {"domain": [0, 61], "nice": false}, "axis": {"values": [0, 10, 20, 30, 40, 50, 60], "labelPadding": 4, "title": "(%)", "titleAngle": 0, "titleX": 7, "titleY": 5, "titleAlign": "left", "titleBaseline": "top"}},
          "y2": {"datum": 0},
          "color": {"field": "lv", "type": "ordinal", "scale": {"domain": [1, 2, 3, 4, 5, 6, 7, 8, 9, 10, 11], "range": ["#2d8c00", "#4ca400", "#78c200", "#99e100", "#c8ff00", "#ffff00", "#ff8270", "#ff6450", "#ff4a3a", "#ff3020", "#c00808"]}, "legend": null}}},
        {"data": {"name": "bars"}, "transform": [{"filter": "datum.p == 'f_v'"}], "mark": {"type": "text", "angle": 270, "align": "left", "baseline": "middle", "fontSize": 22, "xOffset": 26.5, "yOffset": -27}, "encoding": {"x": {"field": "lo", "type": "quantitative"}, "y": {"field": "pct", "type": "quantitative"}, "text": {"field": "pct", "type": "quantitative", "format": ".3~g"}}},
        {"data": {"name": "means"}, "transform": [{"filter": "datum.p == 'f_v'"}], "mark": {"type": "rule", "color": "#9a9a9a", "strokeWidth": 1.5}, "encoding": {"x": {"field": "m", "type": "quantitative"}}}
      ]
    },
    {"width": 58, "height": 540, "data": {"values": []}, "mark": "point"},
    {
      "width": 635, "height": 540,
      "view": {"fill": {"gradient": "linear", "x1": 0, "y1": 0, "x2": 1, "y2": 0, "stops": [{"offset": 0, "color": "#f3f3f3"}, {"offset": 0.1346, "color": "#f3f3f3"}, {"offset": 0.1346, "color": "#ffffff"}, {"offset": 0.757, "color": "#ffffff"}, {"offset": 0.757, "color": "#f3f3f3"}, {"offset": 1, "color": "#f3f3f3"}]}, "stroke": "#a0a0a0", "strokeWidth": 2},
      "layer": [
        {"data": {"name": "bars"}, "transform": [{"filter": "datum.p == 'f_s'"}], "mark": {"type": "bar", "xOffset": 5.4, "x2Offset": -4.5, "stroke": "#7a7a7a", "strokeWidth": 1}, "encoding": {
          "x": {"field": "lo", "type": "quantitative", "scale": {"domain": [22.7, 151.2], "nice": false, "zero": false}, "axis": {"values": [40, 50, 60, 70, 80, 90, 100, 110, 120], "labelPadding": 6, "title": "(bpm)", "titleX": 630, "titleY": -4, "titleAlign": "right", "titleBaseline": "bottom"}},
          "x2": {"field": "hi"},
          "y": {"field": "pct", "type": "quantitative", "scale": {"domain": [0, 84], "nice": false}, "axis": {"values": [0, 10, 20, 30, 40, 50, 60, 70, 80], "labelPadding": 4, "title": "(%)", "titleAngle": 0, "titleX": 7, "titleY": 5, "titleAlign": "left", "titleBaseline": "top"}},
          "y2": {"datum": 0},
          "color": {"field": "lv", "type": "ordinal", "scale": {"domain": [1, 2, 3, 4, 5, 6, 7, 8, 9, 10, 11], "range": ["#2d8c00", "#4ca400", "#78c200", "#99e100", "#c8ff00", "#ffff00", "#ff8270", "#ff6450", "#ff4a3a", "#ff3020", "#c00808"]}, "legend": null}}},
        {"data": {"name": "bars"}, "transform": [{"filter": "datum.p == 'f_s' && datum.pct < 60"}], "mark": {"type": "text", "angle": 270, "align": "left", "baseline": "middle", "fontSize": 22, "xOffset": 27.5, "yOffset": -27}, "encoding": {"x": {"field": "lo", "type": "quantitative"}, "y": {"field": "pct", "type": "quantitative"}, "text": {"field": "pct", "type": "quantitative", "format": ".3~g"}}},
        {"data": {"name": "means"}, "transform": [{"filter": "datum.p == 'f_s'"}], "mark": {"type": "rule", "color": "#9a9a9a", "strokeWidth": 1.5}, "encoding": {"x": {"field": "m", "type": "quantitative"}}},
        {"data": {"name": "bars"}, "transform": [{"filter": "datum.p == 'f_s' && datum.pct >= 60"}, {"calculate": "datum.pct / 2", "as": "mid"}], "mark": {"type": "point", "shape": "M-0.523,-1L0.523,-1L0.523,1L-0.523,1Z", "size": 2948, "filled": true, "fill": "#ffffff", "fillOpacity": 1, "stroke": "#555555", "strokeWidth": 1, "strokeOpacity": 1, "xOffset": 25}, "encoding": {"x": {"field": "lo", "type": "quantitative"}, "y": {"field": "mid", "type": "quantitative"}}},
        {"data": {"name": "bars"}, "transform": [{"filter": "datum.p == 'f_s' && datum.pct >= 60"}, {"calculate": "datum.pct / 2", "as": "mid"}], "mark": {"type": "text", "angle": 270, "align": "center", "baseline": "middle", "fontSize": 22, "xOffset": 27}, "encoding": {"x": {"field": "lo", "type": "quantitative"}, "y": {"field": "mid", "type": "quantitative"}, "text": {"field": "pct", "type": "quantitative", "format": ".3~g"}}}
      ]
    },

    {"width": 47, "height": 27, "view": {"fill": "#d3d3d3"}, "data": {"values": []}, "mark": "point"},
    {"width": 36, "height": 27, "data": {"values": []}, "mark": "point"},
    {"width": 635, "height": 27, "data": {"values": []}, "mark": "point"},
    {"width": 57, "height": 27, "data": {"values": []}, "mark": "point"},
    {"width": 635, "height": 27, "data": {"values": []}, "mark": "point"},
    {"width": 58, "height": 27, "data": {"values": []}, "mark": "point"},
    {"width": 635, "height": 27, "data": {"values": []}, "mark": "point"},

    {
      "width": 47, "height": 60,
      "data": {"values": [{}]},
      "layer": [
        {"mark": {"type": "rect", "filled": false, "color": "#000000", "strokeWidth": 4}, "encoding": {"x": {"value": 0}, "x2": {"value": 2126}, "y": {"value": -2381}, "y2": {"value": 0}}},
        {"mark": {"type": "text", "text": "© 2015 - Cardio Sistemas Coml. Indl. Ltda - Todos os direitos reservados - versão 5.382 compilação 110.78", "fontSize": 25, "fontWeight": "bold", "baseline": "alphabetic"}, "encoding": {"x": {"value": 1063}, "y": {"value": 34}}},
        {"mark": {"type": "text", "text": "7", "fontSize": 40, "fontWeight": "bold", "align": "right", "baseline": "alphabetic"}, "encoding": {"x": {"value": 2123}, "y": {"value": 47}}}
      ]
    },
    {"width": 1, "height": 60, "data": {"values": []}, "mark": "point"},
    {"width": 1, "height": 60, "data": {"values": []}, "mark": "point"},
    {"width": 1, "height": 60, "data": {"values": []}, "mark": "point"},
    {"width": 1, "height": 60, "data": {"values": []}, "mark": "point"},
    {"width": 1, "height": 60, "data": {"values": []}, "mark": "point"},
    {"width": 1, "height": 60, "data": {"values": []}, "mark": "point"}
  ]
}
